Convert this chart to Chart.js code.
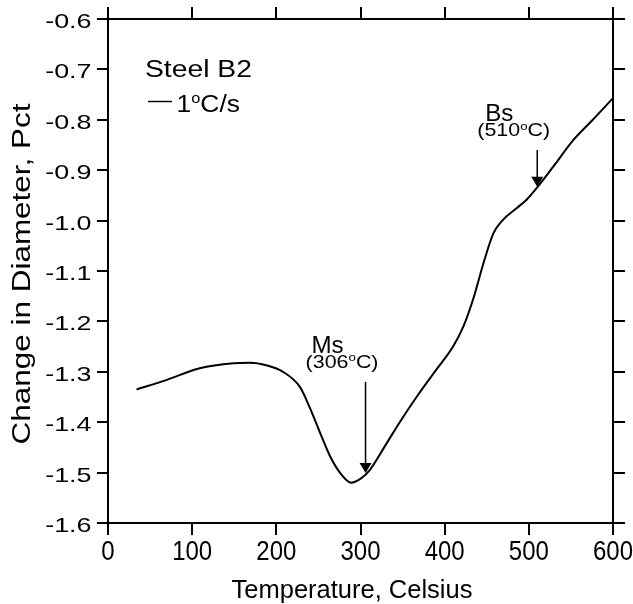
<!DOCTYPE html>
<html>
<head>
<meta charset="utf-8">
<script src="https://cdn.jsdelivr.net/npm/chart.js@4.4.1/dist/chart.umd.min.js"></script>
<style>
  html, body { margin: 0; padding: 0; background: #fff; }
  #wrap { width: 633px; height: 604px; position: relative; }
</style>
</head>
<body>
<div id="wrap"><canvas id="dilChart" width="633" height="604"></canvas></div>
<script>
/* =====================================================
   DATA
===================================================== */
const temps = [34, 70, 109, 149, 169, 188, 208, 228, 240, 252, 264, 276, 289, 301, 311,
  331, 347, 367, 390, 410, 422, 434, 446, 458, 469, 485, 497, 509, 529, 553, 576, 600];
const diam = [-1.335, -1.316, -1.293, -1.283, -1.282, -1.287, -1.300, -1.330, -1.372, -1.421,
  -1.468, -1.501, -1.520, -1.511, -1.495, -1.442, -1.399, -1.349, -1.296, -1.250, -1.211,
  -1.155, -1.085, -1.025, -0.999, -0.976, -0.959, -0.936, -0.893, -0.840, -0.800, -0.757];

const xTicks = [0, 100, 200, 300, 400, 500, 600];
const yTicks = [-1.6, -1.5, -1.4, -1.3, -1.2, -1.1, -1.0, -0.9, -0.8, -0.7, -0.6];

// transformation markers: name, temperature, arrow top, arrow tip
const markNames = ["Ms", "Bs"];
const markTemps = [306, 510];
const markTop = [-1.320, -0.860];
const markTip = [-1.501, -0.933];

const xTitle = "Temperature, Celsius";
const yTitle = "Change in Diameter, Pct";

const FONT = 'Arial, "Liberation Sans", sans-serif';

/* =====================================================
   TEXT HELPERS (the scanned figure's lettering is stretched)
===================================================== */
// parts: [text, superscript?]; drawn at (x, y) baseline, scaled by sx / sy
function drawText(ctx, x, y, parts, size, sx, sy, align) {
  const widths = parts.map(p => {
    ctx.font = (p[1] ? size * 0.62 : size) + "px " + FONT;
    return ctx.measureText(p[0]).width;
  });
  const total = widths.reduce((a, b) => a + b, 0);
  let cx = align === "center" ? -total / 2 : align === "right" ? -total : 0;
  ctx.save();
  ctx.translate(x, y);
  ctx.scale(sx, sy);
  ctx.textAlign = "left";
  ctx.textBaseline = "alphabetic";
  parts.forEach((p, i) => {
    ctx.font = (p[1] ? size * 0.62 : size) + "px " + FONT;
    ctx.fillText(p[0], cx, p[1] ? -size * 0.36 : 0);
    cx += widths[i];
  });
  ctx.restore();
}

/* =====================================================
   LABELS + ANNOTATIONS
===================================================== */
const annotations = {
  id: "annotations",
  afterDatasetsDraw(chart) {
    const { ctx, scales: { x, y } } = chart;
    ctx.save();
    ctx.fillStyle = "#000";
    ctx.strokeStyle = "#000";

    // tick labels
    x.ticks.forEach(t => {
      drawText(ctx, x.getPixelForValue(t.value), 560, [[String(t.value), false]], 24, 1, 1.16, "center");
    });
    y.ticks.forEach(t => {
      drawText(ctx, 91.5, y.getPixelForValue(t.value) + 9, [[t.value.toFixed(1), false]], 21, 1.28, 1, "right");
    });

    // axis titles
    drawText(ctx, 352, 598, [[xTitle, false]], 25.5, 1, 1, "center");
    ctx.save();
    ctx.translate(30, 274);
    ctx.rotate(-Math.PI / 2);
    drawText(ctx, 0, 0, [[yTitle, false]], 26, 1.21, 1, "center");
    ctx.restore();

    // legend text
    drawText(ctx, 145, 76.5, [["Steel B2", false]], 23, 1.23, 1, "left");
    ctx.lineWidth = 1.5;
    ctx.beginPath();
    ctx.moveTo(148, 101.5);
    ctx.lineTo(172, 101.5);
    ctx.stroke();
    drawText(ctx, 176.5, 111.5, [["1", false], ["o", true], ["C/s", false]], 23, 1.15, 1, "left");

    // arrows and labels
    markNames.forEach((name, i) => {
      const px = x.getPixelForValue(markTemps[i]);
      const top = y.getPixelForValue(markTop[i]);
      const tip = y.getPixelForValue(markTip[i]);
      ctx.lineWidth = 1.5;
      ctx.beginPath();
      ctx.moveTo(px, top);
      ctx.lineTo(px, tip - 8);
      ctx.stroke();
      ctx.beginPath();
      ctx.moveTo(px - 6, tip - 10);
      ctx.lineTo(px + 6, tip - 10);
      ctx.lineTo(px, tip);
      ctx.closePath();
      ctx.fill();

      drawText(ctx, px - 38, top - 29, [[name, false]], 23, 1.05, 1, "center");
      drawText(ctx, px - 23.5, top - 14, [["(" + markTemps[i], false], ["o", true], ["C)", false]],
        18, 1.19, 1, "center");
    });
    ctx.restore();
  }
};

/* =====================================================
   CHART
===================================================== */
const fixTicks = vals => scale => { scale.ticks = vals.map(v => ({ value: v })); };
const axisGrid = len => ({ drawOnChartArea: false, drawTicks: true, tickLength: len, color: "#000", lineWidth: 2 });

new Chart(document.getElementById("dilChart"), {
  type: "scatter",
  data: {
    datasets: [{
      data: temps.map((t, i) => ({ x: t, y: diam[i] })),
      showLine: true,
      borderColor: "#000",
      borderWidth: 2,
      pointRadius: 0,
      cubicInterpolationMode: "monotone"
    }]
  },
  options: {
    responsive: false,
    animation: false,
    layout: { padding: 0 },
    plugins: { legend: { display: false }, tooltip: { enabled: false } },
    scales: {
      x: {
        position: "bottom",
        min: 0, max: 600,
        afterBuildTicks: fixTicks(xTicks),
        afterFit: s => { s.height = 81; },
        border: { color: "#000", width: 2 },
        grid: axisGrid(12),
        ticks: { display: false }
      },
      x2: {
        position: "top",
        min: 0, max: 600,
        afterBuildTicks: fixTicks(xTicks),
        afterFit: s => { s.height = 19; },
        border: { color: "#000", width: 2 },
        grid: axisGrid(12),
        ticks: { display: false }
      },
      y: {
        position: "left",
        min: -1.6, max: -0.6,
        afterBuildTicks: fixTicks(yTicks),
        afterFit: s => { s.width = 108; },
        border: { color: "#000", width: 2 },
        grid: axisGrid(11),
        ticks: { display: false }
      },
      y2: {
        position: "right",
        min: -1.6, max: -0.6,
        afterBuildTicks: fixTicks(yTicks),
        afterFit: s => { s.width = 20; },
        border: { color: "#000", width: 2 },
        grid: axisGrid(12),
        ticks: { display: false }
      }
    }
  },
  plugins: [annotations]
});
</script>
</body>
</html>
